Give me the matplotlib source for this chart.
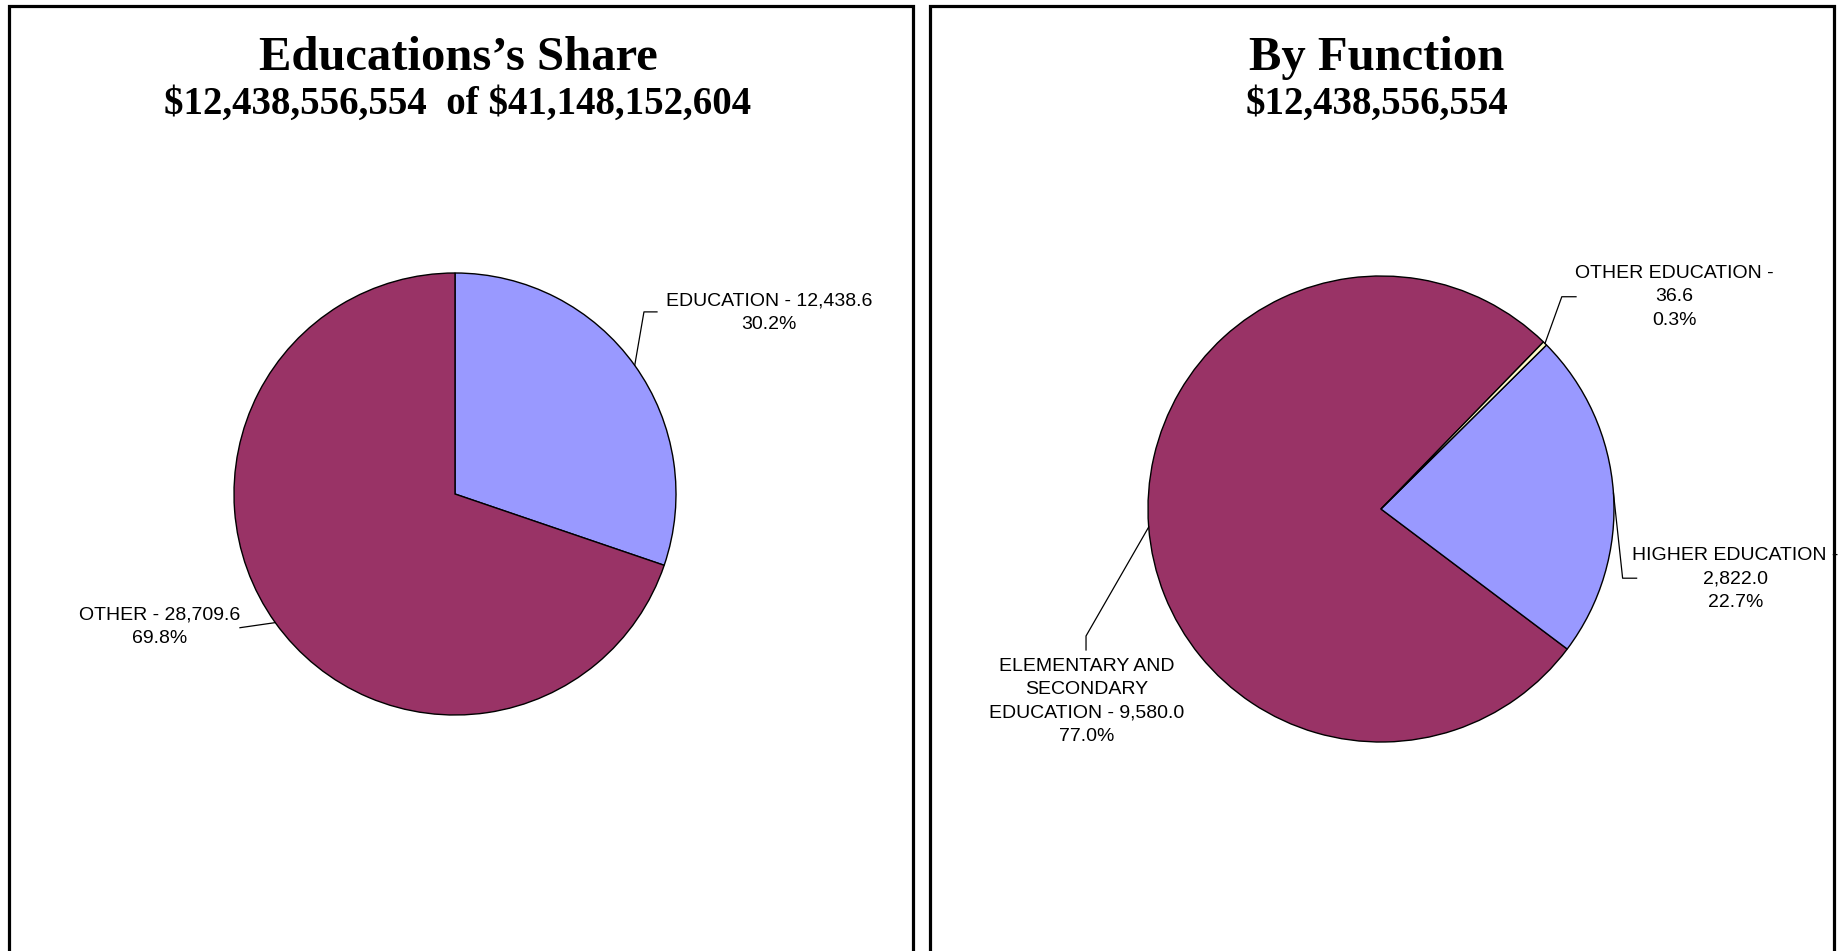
import numpy as np
import matplotlib
matplotlib.use("Agg")
import matplotlib.pyplot as plt
from matplotlib.patches import Rectangle

# ---- data ----
share_labels = ["EDUCATION", "OTHER"]
share_values = [12438.6, 28709.6]
share_colors = ["#9999FF", "#993366"]

func_labels = ["ELEMENTARY AND\nSECONDARY\nEDUCATION", "HIGHER EDUCATION", "OTHER EDUCATION"]
func_values = [9580.0, 2822.0, 36.6]
func_colors = ["#993366", "#9999FF", "#FFFFCC"]

title_left = ["Educations\u2019s Share", "\\$12,438,556,554  of \\$41,148,152,604"]
title_right = ["By Function", "\\$12,438,556,554"]

W, H = 1843, 951
fig = plt.figure(figsize=(W / 100, H / 100), dpi=100)
fig.patch.set_facecolor("white")

# panel borders
for x0, x1 in [(9, 913), (930, 1834)]:
    fig.patches.append(Rectangle((x0 / W, -0.05), (x1 - x0) / W, 1 - 6 / H + 0.05,
                                 transform=fig.transFigure, fill=False,
                                 edgecolor="black", linewidth=2.3))

def fx(px):
    return px / W

def fy(py):
    return 1 - py / H

# titles
for cx, lines in [(458, title_left), (1377, title_right)]:
    fig.text(fx(cx), fy(70), lines[0], ha="center", va="baseline",
             family="Liberation Serif", weight="bold", fontsize=35)
    fig.text(fx(cx), fy(114), lines[1], ha="center", va="baseline",
             family="Liberation Serif", weight="bold", fontsize=28)

LBL = dict(family="Liberation Sans", fontsize=14, ha="center", va="center",
           multialignment="center", linespacing=1.47)

def pie_axes(cx, cy, r):
    m = 1.1
    ax = fig.add_axes([(cx - m * r) / W, (H - cy - m * r) / H, 2 * m * r / W, 2 * m * r / H])
    return ax

def fmt(v):
    return f"{v:,.1f}"

# ---- left pie ----
ax1 = pie_axes(455, 494, 221)
w1, _ = ax1.pie(share_values, colors=share_colors, startangle=90, counterclock=False,
                wedgeprops=dict(edgecolor="black", linewidth=1.0))
ax1.set_xlim(-1.1, 1.1); ax1.set_ylim(-1.1, 1.1)
tot1 = sum(share_values)
# label placement (layout)
lay1 = [
    dict(text=(1.421, 0.819), path=[(0.855, 0.824), (0.914, 0.824)], sep=" - "),
    dict(text=(-1.335, -0.602), path=[(-0.973, -0.605)], sep=" - "),
]
for w, lab, v, L in zip(w1, share_labels, share_values, lay1):
    th = np.deg2rad((w.theta1 + w.theta2) / 2)
    pts = [(np.cos(th), np.sin(th))] + L["path"]
    ax1.plot([p[0] for p in pts], [p[1] for p in pts], color="black", lw=0.9, clip_on=False)
    ax1.text(*L["text"], f"{lab}{L['sep']}{fmt(v)}\n{v / tot1 * 100:.1f}%", **LBL)

# ---- right pie ----
ax2 = pie_axes(1381, 509, 233)
w2, _ = ax2.pie(func_values, colors=func_colors, startangle=45.8, counterclock=True,
                wedgeprops=dict(edgecolor="black", linewidth=1.0))
ax2.set_xlim(-1.1, 1.1); ax2.set_ylim(-1.1, 1.1)
tot2 = sum(func_values)
lay2 = [
    dict(text=(-1.265, -0.826), path=[(-1.266, -0.545), (-1.266, -0.605)], sep=" - "),
    dict(text=(1.522, -0.300), path=[(1.037, -0.297), (1.097, -0.297)], sep=" -\n"),
    dict(text=(1.258, 0.910), path=[(0.776, 0.911), (0.837, 0.911)], sep=" -\n"),
]
for w, lab, v, L in zip(w2, func_labels, func_values, lay2):
    th = np.deg2rad((w.theta1 + w.theta2) / 2)
    pts = [(np.cos(th), np.sin(th))] + L["path"]
    ax2.plot([p[0] for p in pts], [p[1] for p in pts], color="black", lw=0.9, clip_on=False)
    ax2.text(*L["text"], f"{lab}{L['sep']}{fmt(v)}\n{v / tot2 * 100:.1f}%", **LBL)

fig.savefig("out.png", dpi=100, facecolor="white")
